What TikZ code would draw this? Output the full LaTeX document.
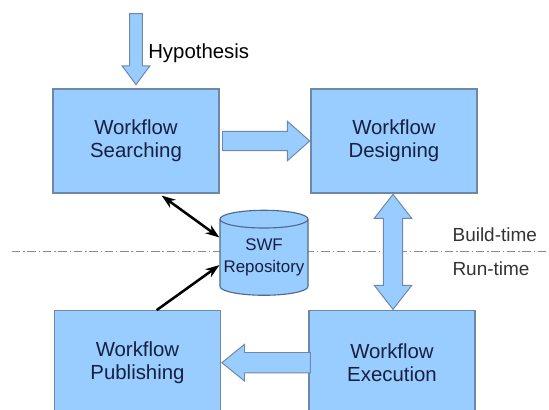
\documentclass[tikz,border=0pt]{standalone}
\usepackage{fontspec}
\setmainfont{Liberation Sans}
\usetikzlibrary{shapes.arrows,shapes.geometric,arrows.meta,calc}

\definecolor{boxblue}{HTML}{99CCFF}
\definecolor{boxline}{HTML}{6F88A6}
\definecolor{cylline}{HTML}{4F6A8C}
\definecolor{boxtext}{HTML}{16203F}

\begin{document}
\begin{tikzpicture}[>={Stealth[length=10pt,width=7pt]},
  phase/.style={draw=boxline,fill=boxblue,line width=0.8pt,minimum width=4.15cm,minimum height=2.6cm,align=center,text=boxtext,font=\fontsize{14.5}{16.5}\selectfont},
  fatarrow/.style={single arrow,draw=boxline,fill=boxblue,line width=0.7pt,single arrow head indent=0pt},
  link/.style={line width=1.8pt},
  timelbl/.style={text=black!80,font=\fontsize{13.5}{16}\selectfont}]
\clip (0,0) rectangle (13.725,10.25);

% Phases
\node[phase] (search)  at (3.4,6.725)     {Workflow\\Searching};
\node[phase] (design)  at (9.85,6.725)    {Workflow\\Designing};
\node[phase] (publish) at (3.4375,1.1825) {Workflow\\Publishing};
\node[phase] (exec)    at (9.8,1.1825)    {Workflow\\Execution};

% Input
\node[fatarrow,shape border rotate=270,inner sep=0.146cm,minimum height=1.775cm,minimum width=0.665cm,single arrow head extend=0.186cm,single arrow tip angle=73,anchor=tip] (hyparrow) at ([yshift=0.075cm]search.north) {};
\node[anchor=west,inner sep=0pt,font=\fontsize{14.5}{16.5}\selectfont] (hyp) at (3.7,8.925) {Hypothesis};

% Flow between phases
\node[fatarrow,inner sep=0.23cm,minimum height=2.18cm,minimum width=0.96cm,single arrow head extend=0.25cm,single arrow tip angle=83,anchor=tip] (todesign) at (design.west) {};
\node[fatarrow,shape border rotate=180,inner sep=0.2425cm,minimum height=2.215cm,minimum width=0.89cm,single arrow head extend=0.204cm,single arrow tip angle=78,anchor=tip] (topublish) at (publish.east) {};

% Build-time / run-time border
\coordinate (sepL) at (0.3,3.957);
\coordinate (sepR) at (13.725,3.957);
\draw[black!45,line width=0.6pt,dash pattern=on 6pt off 2pt on 1pt off 2pt] (sepL) -- (sepR);
\node[timelbl] (build) at (12.37,4.392)  {Build-time};
\node[timelbl] (run)   at (12.275,3.5425) {Run-time};

\node[double arrow,draw=boxline,fill=boxblue,line width=0.7pt,inner sep=0.229cm,shape border rotate=90,minimum height=2.875cm,minimum width=0.915cm,double arrow head extend=0.229cm,double arrow tip angle=76,double arrow head indent=0pt] (buildrun) at ($(design.south)!0.5!(exec.north)$) {};

% Repository
\node[cylinder,shape border rotate=90,draw=cylline,fill=boxblue,line width=0.8pt,minimum width=2.2cm,minimum height=2.125cm,aspect=0.22,inner sep=0pt,align=center,text=boxtext,font=\fontsize{12}{15.5}\selectfont] (repo) at (6.6,3.8125) {SWF\\Repository};

\draw[link,<->] ([xshift=0.64cm,yshift=-0.05cm]search.south) -- ([yshift=0.5cm]repo.west);
\draw[link,->] ([xshift=0.48cm]publish.north) -- ([yshift=-0.19cm]repo.west);
\end{tikzpicture}
\end{document}
